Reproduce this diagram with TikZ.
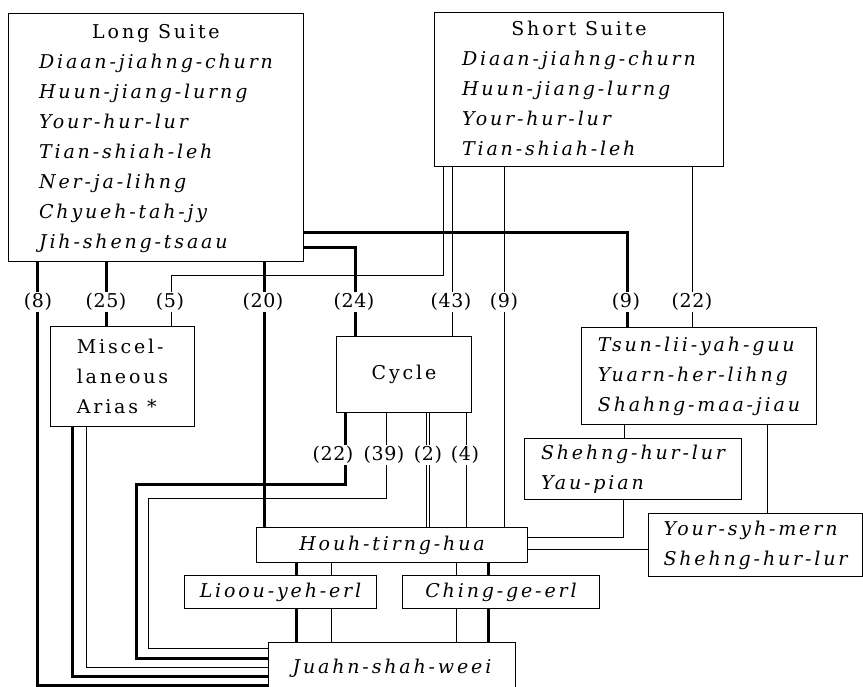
\documentclass[tikz,border=0pt]{standalone}
\usepackage{fontspec}
\usepackage{array}
\setmainfont{DejaVu Serif}[LetterSpace=15]
\newfontfamily\countfont{DejaVu Serif}[LetterSpace=3]
\definecolor{inkMain}{HTML}{000000}
\definecolor{paperBg}{HTML}{FFFFFF}
\newcommand{\diagfont}{\fontsize{19}{30}\selectfont}
\newcolumntype{I}{>{\itshape}l}
\tikzset{
  namebox/.style={draw=inkMain, line width=1pt, inner sep=0pt, anchor=north west,
    font=\diagfont, text=inkMain, align=center},
  itembox/.style={namebox, font=\diagfont\itshape, align=left},
  thickline/.style={line width=3pt, draw=inkMain},
  thinline/.style={line width=1pt, draw=inkMain},
  pairline/.style={draw=inkMain, line width=0.8pt, double=paperBg, double distance=1.6pt},
  countlabel/.style={fill=paperBg, inner sep=1.5pt, font=\countfont\diagfont, text=inkMain},
}

\begin{document}
\begin{tikzpicture}[x=1pt, y=-1pt]
  \useasboundingbox (0,0) rectangle (863,687);

  % === Suites at the top ===
  \node[namebox, minimum width=295, minimum height=248] (longsuite) at (8,13) {%
    \begin{tabular}{@{}I@{}}
      \multicolumn{1}{@{}c@{}}{Long Suite}\\
      Diaan-jiahng-churn\\
      Huun-jiang-lurng\\
      Your-hur-lur\\
      Tian-shiah-leh\\
      Ner-ja-lihng\\
      Chyueh-tah-jy\\
      Jih-sheng-tsaau
    \end{tabular}};
  \node[namebox, minimum width=289, minimum height=154] (shortsuite) at (434,12) {%
    \begin{tabular}{@{}I@{}}
      \multicolumn{1}{@{}c@{}}{Short Suite}\\
      Diaan-jiahng-churn\\
      Huun-jiang-lurng\\
      Your-hur-lur\\
      Tian-shiah-leh
    \end{tabular}};

  % === Middle row ===
  \node[namebox, align=left, minimum width=144, minimum height=100] (misc) at (50,326)
    {Miscel-\\laneous\\Arias *};
  \node[namebox, minimum width=135, minimum height=76] (cycle) at (336,336) {Cycle};
  \node[itembox, minimum width=235, minimum height=97] (tsun) at (581,327)
    {Tsun-lii-yah-guu\\Yuarn-her-lihng\\Shahng-maa-jiau};
  \node[itembox, minimum width=217, minimum height=61] (yaupian) at (524,438)
    {Shehng-hur-lur\\Yau-pian};
  \node[itembox, minimum width=214, minimum height=63] (yoursyh) at (648,513)
    {Your-syh-mern\\Shehng-hur-lur};

  % === Lower chain ===
  \node[itembox, align=center, minimum width=271, minimum height=35] (houh) at (256,527) {Houh-tirng-hua};
  \node[itembox, align=center, minimum width=192, minimum height=33] (lioou) at (184,575) {Lioou-yeh-erl};
  \node[itembox, align=center, minimum width=197, minimum height=33] (ching) at (402,575) {Ching-ge-erl};
  \node[itembox, align=center, minimum width=247, minimum height=45, text height=22pt, text depth=5pt] (juahn) at (268,642) {Juahn-shah-weei};

  % Long Suite connectors
  \draw[thickline] ([xshift=29]longsuite.south west) |- ([yshift=-43]juahn.north west);
  \draw[thickline] ([xshift=98]longsuite.south west) -- ([xshift=56]misc.north west);
  \draw[thickline] ([xshift=256]longsuite.south west) -- ([xshift=8]houh.north west);
  \draw[thickline] ([yshift=14]longsuite.south east) -| ([xshift=19]cycle.north west);
  \draw[thickline] ([yshift=29]longsuite.south east) -| ([xshift=46]tsun.north west);

  % Short Suite connectors
  \draw[thinline] ([xshift=9]shortsuite.south west) -- ++(0,109) -| ([xshift=121]misc.north west);
  \draw[thinline] ([xshift=18]shortsuite.south west) -- ([xshift=116]cycle.north west);
  \draw[thinline] ([xshift=70]shortsuite.south west) -- ([xshift=248]houh.north west);
  \draw[thinline] ([xshift=258]shortsuite.south west) -- ([xshift=111]tsun.north west);

  % Tsun-lii-yah-guu group
  \draw[thinline] ([xshift=43]tsun.south west) -- ([xshift=100]yaupian.north west);
  \draw[thinline] ([xshift=186]tsun.south west) -- ([xshift=119]yoursyh.north west);
  \draw[thinline] ([xshift=99]yaupian.south west) |- ([yshift=-10]houh.north east);
  \draw[thinline] ([yshift=-22]houh.north east) -- ([yshift=-36]yoursyh.north west);

  % Cycle connectors
  \draw[thickline] ([xshift=9]cycle.south west) -- ++(0,71) -- ++(-209,0) |- ([yshift=-16]juahn.north west);
  \draw[thinline] ([xshift=50]cycle.south west) -- ++(0,85) -- ++(-238,0) |- ([yshift=-6]juahn.north west);
  \draw[pairline] ([xshift=92]cycle.south west) -- ([xshift=172]houh.north west);
  \draw[thinline] ([xshift=130]cycle.south west) -- ([xshift=210]houh.north west);

  % Miscellaneous arias
  \draw[thickline] ([xshift=22]misc.south west) |- ([yshift=-34]juahn.north west);
  \draw[thinline] ([xshift=36]misc.south west) |- ([yshift=-25]juahn.north west);

  % Houh-tirng-hua -> erl pieces -> Juahn-shah-weei
  \draw[thickline] ([xshift=40]houh.south west) -- ([xshift=112]lioou.north west);
  \draw[thinline] ([xshift=75]houh.south west) -- ([xshift=147]lioou.north west);
  \draw[thickline] ([xshift=112]lioou.south west) -- ([xshift=28]juahn.north west);
  \draw[thinline] ([xshift=147]lioou.south west) -- ([xshift=63]juahn.north west);
  \draw[thinline] ([xshift=200]houh.south west) -- ([xshift=54]ching.north west);
  \draw[thickline] ([xshift=232]houh.south west) -- ([xshift=86]ching.north west);
  \draw[thinline] ([xshift=54]ching.south west) -- ([xshift=188]juahn.north west);
  \draw[thickline] ([xshift=86]ching.south west) -- ([xshift=220]juahn.north west);

  % Counts
  \foreach \xpos/\num [count=\i] in {38/8, 106/25, 170/5, 263/20, 354/24, 451/43, 504/9, 626/9, 692/22}
    \node[countlabel] (topcount\i) at (\xpos,302) {(\num)};
  \foreach \xpos/\num [count=\i] in {333/22, 384/39, 428/2, 465/4}
    \node[countlabel] (cyclecount\i) at (\xpos,455) {(\num)};

\end{tikzpicture}
\end{document}
